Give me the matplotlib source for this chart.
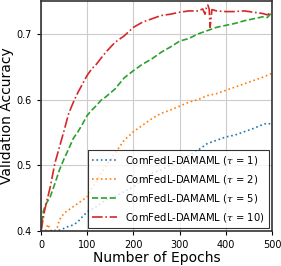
import matplotlib
matplotlib.use("Agg")
import matplotlib.pyplot as plt

# values
ep_t1 = [0, 20, 40, 60, 70, 80, 90, 100, 120, 140, 160, 180, 200, 220, 240, 260, 280, 300,
         320, 340, 360, 380, 400, 420, 440, 460, 480, 490, 500]
acc_t1 = [0.400, 0.400, 0.401, 0.407, 0.409, 0.414, 0.422, 0.429, 0.437, 0.447, 0.452, 0.460,
          0.467, 0.477, 0.488, 0.493, 0.500, 0.508, 0.515, 0.523, 0.533, 0.538, 0.543, 0.546,
          0.551, 0.556, 0.562, 0.564, 0.562]

ep_t2 = [0, 10, 15, 20, 30, 35, 40, 50, 60, 70, 80, 90, 100, 110, 120, 130, 140, 150, 160, 170,
         180, 200, 220, 240, 260, 280, 300, 320, 340, 360, 380, 400, 420, 440, 460, 480, 500]
acc_t2 = [0.400, 0.400, 0.410, 0.401, 0.400, 0.405, 0.417, 0.427, 0.432, 0.437, 0.442, 0.447,
          0.452, 0.465, 0.475, 0.488, 0.498, 0.508, 0.518, 0.528, 0.538, 0.551, 0.561, 0.571,
          0.579, 0.584, 0.590, 0.596, 0.600, 0.606, 0.609, 0.614, 0.619, 0.624, 0.629, 0.634,
          0.640]

ep_t5 = [0, 5, 10, 20, 30, 40, 50, 60, 70, 80, 90, 100, 110, 120, 130, 140, 160, 180, 200, 220,
         240, 260, 280, 300, 320, 340, 360, 380, 400, 420, 440, 460, 480, 490, 500]
acc_t5 = [0.400, 0.430, 0.440, 0.452, 0.472, 0.493, 0.510, 0.525, 0.541, 0.551, 0.563, 0.576,
          0.584, 0.591, 0.599, 0.604, 0.616, 0.633, 0.644, 0.654, 0.662, 0.672, 0.680, 0.689,
          0.693, 0.700, 0.705, 0.710, 0.713, 0.716, 0.720, 0.723, 0.726, 0.725, 0.733]

ep_t10 = [0, 8, 20, 30, 40, 50, 60, 70, 80, 90, 100, 110, 120, 140, 160, 180, 200, 220, 240,
          260, 280, 300, 320, 340, 350, 355, 358, 361, 364, 366, 370, 380, 400, 420, 440, 460,
          480, 490, 500]
acc_t10 = [0.400, 0.432, 0.467, 0.503, 0.528, 0.553, 0.579, 0.596, 0.611, 0.624, 0.637, 0.647,
           0.654, 0.672, 0.687, 0.697, 0.710, 0.718, 0.723, 0.728, 0.730, 0.733, 0.735, 0.735,
           0.738, 0.730, 0.740, 0.744, 0.738, 0.710, 0.737, 0.735, 0.734, 0.734, 0.735, 0.733,
           0.731, 0.729, 0.734]

labels = [r"ComFedL-DAMAML ($\tau$ = 1)", r"ComFedL-DAMAML ($\tau$ = 2)",
          r"ComFedL-DAMAML ($\tau$ = 5)", r"ComFedL-DAMAML ($\tau$ = 10)"]

plt.rcParams["mathtext.fontset"] = "dejavuserif"
fig = plt.figure(figsize=(2.81, 2.66), dpi=100)
ax = fig.add_axes([0.146, 0.132, 0.822, 0.864])

ax.plot(ep_t1, acc_t1, ':', c='tab:blue', lw=1.2, label=labels[0])
ax.plot(ep_t2, acc_t2, ':', c='tab:orange', lw=1.2, label=labels[1])
ax.plot(ep_t5, acc_t5, '--', c='tab:green', lw=1.2, label=labels[2])
ax.plot(ep_t10, acc_t10, '-.', c='tab:red', lw=1.2, label=labels[3])

ax.set_xlim(0, 500)
ax.set_ylim(0.4, 0.75)
ax.set_xticks([0, 100, 200, 300, 400, 500])
ax.set_yticks([0.4, 0.5, 0.6, 0.7])
ax.tick_params(labelsize=7, length=3)
ax.grid(color='#cccccc', lw=0.8)
for s in ax.spines.values():
    s.set_color('#333333')
    s.set_linewidth(1.2)

ax.set_xlabel("Number of Epochs", fontsize=10, labelpad=1)
ax.set_ylabel("Validation Accuracy", fontsize=10, labelpad=2)

leg = ax.legend(loc='lower right', fontsize=7.2, fancybox=False, edgecolor='black',
                framealpha=0.8, handlelength=2.5, labelspacing=0.6, borderaxespad=0.3)
leg.get_frame().set_linewidth(0.8)

fig.savefig("out.png", dpi=100)
